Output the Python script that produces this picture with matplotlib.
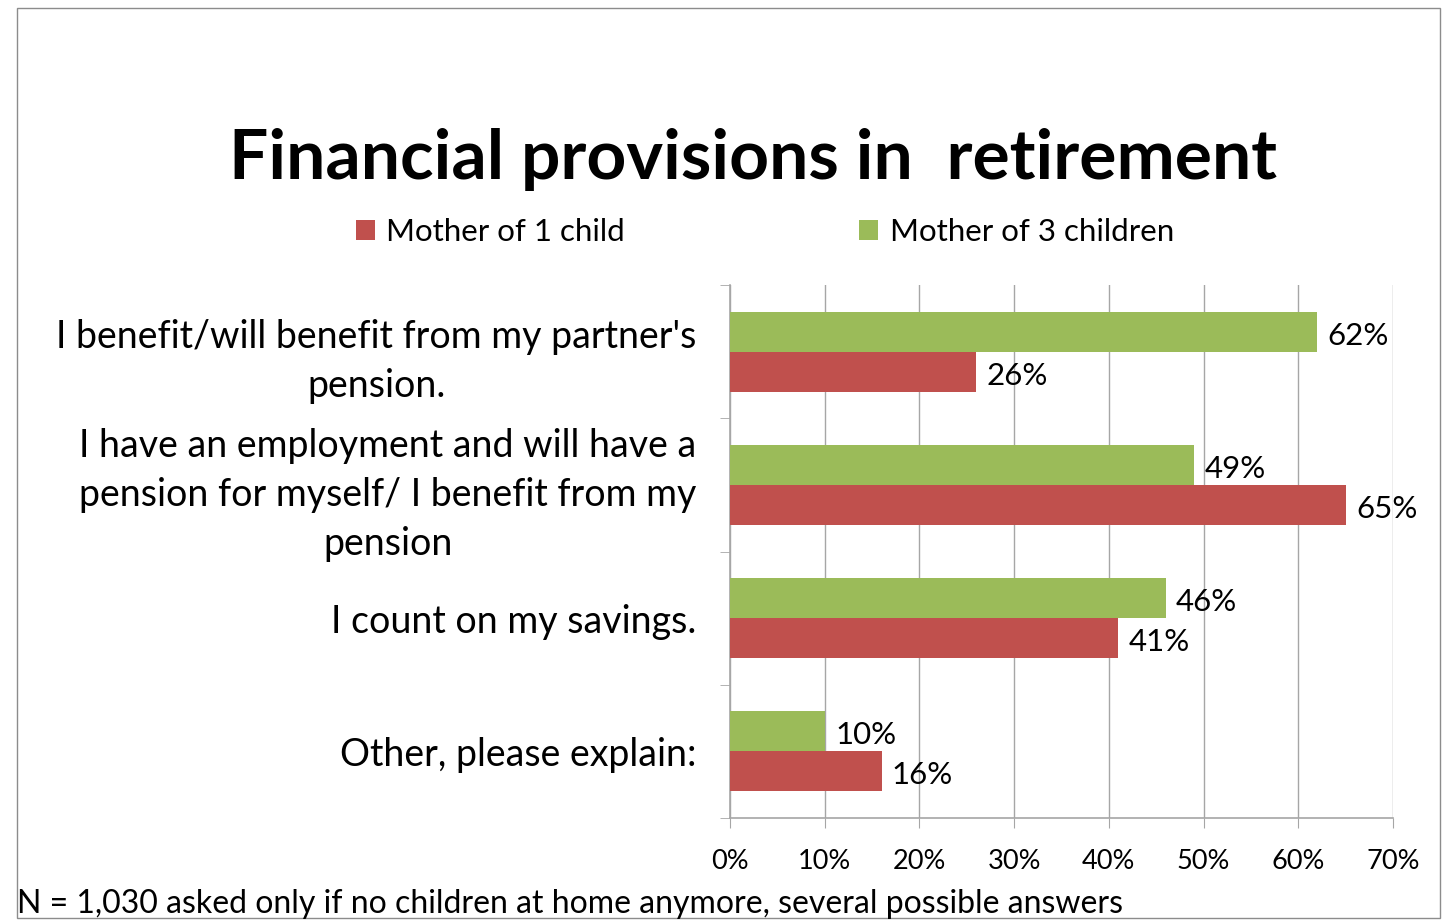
import matplotlib
matplotlib.use("Agg")
import matplotlib.pyplot as plt
import matplotlib.patches as mpatches
import numpy as np

plt.rcParams["font.family"] = ["Lato", "DejaVu Sans"]

categories = [
    "I benefit/will benefit from my partner's\npension.",
    "I have an employment and will have a\npension for myself/ I benefit from my\npension",
    "I count on my savings.",
    "Other, please explain:",
]
one_child = [26, 65, 41, 16]
three_children = [62, 49, 46, 10]
series_names = ["Mother of 1 child", "Mother of 3 children"]
x_ticks = [0, 10, 20, 30, 40, 50, 60, 70]

RED = "#C0504D"
GREEN = "#9BBB59"
GRID = "#A6A6A6"

W, H = 1449, 922
fig = plt.figure(figsize=(W / 100, H / 100), dpi=100)
fig.patch.set_facecolor("white")

# outer chart border
fig.add_artist(mpatches.Rectangle((17 / W, 1 - 918 / H), (1440 - 17) / W, (918 - 8) / H,
                                  transform=fig.transFigure, fill=False,
                                  edgecolor="#8C8C8C", linewidth=1))

ax = fig.add_axes([730 / W, 1 - 818 / H, (1393 - 730) / W, (818 - 285) / H])

y = np.arange(len(categories))
h = 0.3
ax.barh(y - h / 2, three_children, height=h, color=GREEN, zorder=3)
ax.barh(y + h / 2, one_child, height=h, color=RED, zorder=3)

for yi, v in zip(y, three_children):
    ax.text(v + 1.1, yi - h / 2 + 0.03, f"{v}%", va="center", ha="left", fontsize=22.5, zorder=4)
for yi, v in zip(y, one_child):
    ax.text(v + 1.1, yi + h / 2 + 0.03, f"{v}%", va="center", ha="left", fontsize=22.5, zorder=4)

ax.set_xlim(0, 70)
ax.set_ylim(len(categories) - 0.5, -0.5)
ax.set_xticks(x_ticks)
ax.set_xticklabels([f"{t}%" for t in x_ticks], fontsize=19.5)
ax.set_yticks(y)
ax.set_yticklabels(categories, fontsize=27)
for lbl in ax.get_yticklabels():
    lbl.set_multialignment("center")
    lbl.set_linespacing(1.45)
ax.set_yticks(np.arange(len(categories) + 1) - 0.5, minor=True)
ax.tick_params(axis="y", which="major", length=0, pad=24)
ax.tick_params(axis="y", which="minor", length=7, color=GRID, direction="out")
ax.tick_params(axis="x", length=7, color=GRID, direction="out", pad=15)

ax.grid(axis="x", color=GRID, linewidth=1, zorder=0)
for side in ["top", "right"]:
    ax.spines[side].set_visible(False)
for side in ["left", "bottom"]:
    ax.spines[side].set_color(GRID)
    ax.spines[side].set_linewidth(1.2)

fig.text(753 / W, 1 - 159 / H, "Financial provisions in  retirement", ha="center", va="center",
         fontsize=50, fontweight="bold")

handles = [mpatches.Patch(facecolor=RED, label=series_names[0]),
           mpatches.Patch(facecolor=GREEN, label=series_names[1])]
fig.legend(handles=handles, loc="center", bbox_to_anchor=(765 / W, 1 - 232 / H), ncol=2,
           frameon=False, fontsize=22.5, handlelength=0.6, handleheight=0.6,
           handletextpad=0.37, columnspacing=7.5)

fig.text(17 / W, 1 - 904 / H, "N = 1,030 asked only if no children at home anymore, several possible answers",
         ha="left", va="center", fontsize=23)

fig.savefig("out.png", dpi=100, facecolor="white")
